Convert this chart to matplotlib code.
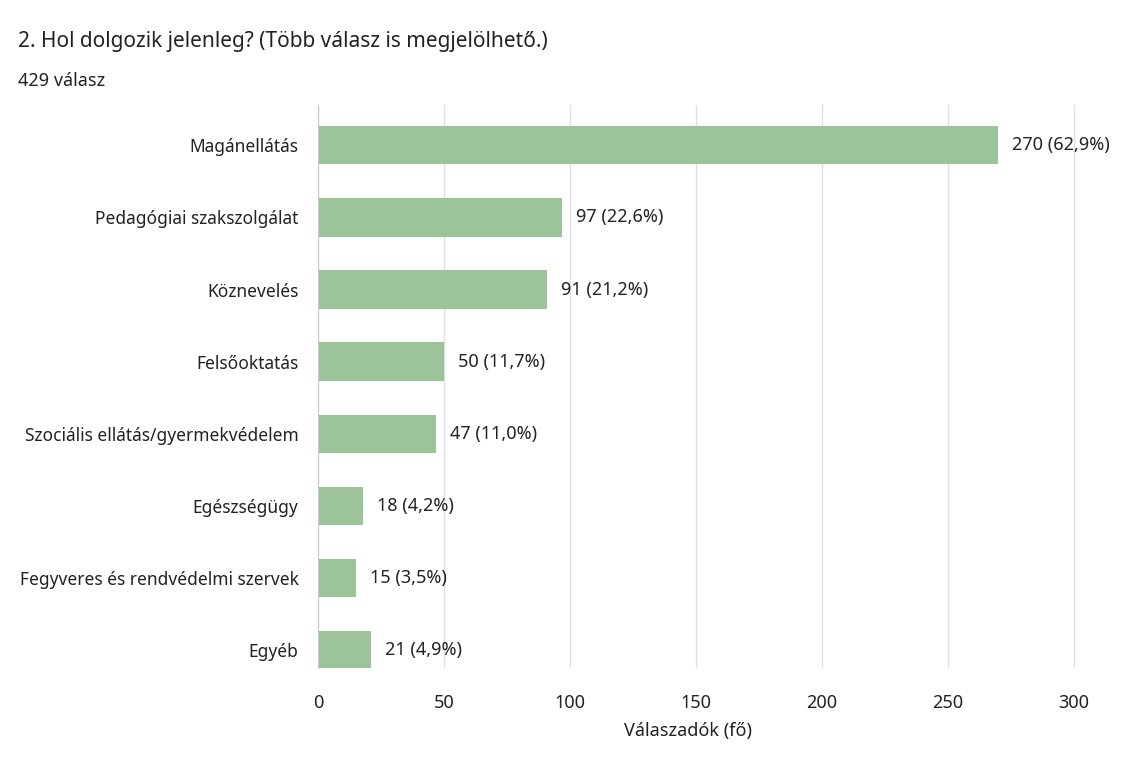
import matplotlib
matplotlib.use("Agg")
from matplotlib import pyplot as plt
import numpy as np

# adatok
categories = ["Magánellátás", "Pedagógiai szakszolgálat", "Köznevelés", "Felsőoktatás",
              "Szociális ellátás/gyermekvédelem", "Egészségügy",
              "Fegyveres és rendvédelmi szervek", "Egyéb"]
counts = [270, 97, 91, 50, 47, 18, 15, 21]
percents = ["62,9", "22,6", "21,2", "11,7", "11,0", "4,2", "3,5", "4,9"]
xticks = [0, 50, 100, 150, 200, 250, 300]

plt.rcParams['font.family'] = ['Noto Sans', 'DejaVu Sans']

fig = plt.figure(figsize=(11.45, 7.64), dpi=100)
ax = fig.add_axes([0.2777, 0.1257, 0.7040, 0.7369])

y = np.arange(len(categories))
ax.barh(y, counts, height=0.53, color="#9cc39a", zorder=2)
for yi, c, p in zip(y, counts, percents):
    ax.text(c + 5.5, yi, f"{c} ({p}%)", va="center", ha="left", fontsize=13, color="#222222")

ax.set_yticks(y)
ax.set_yticklabels(categories, fontsize=12.5, color="#222222")
ax.set_xticks(xticks)
ax.set_xticklabels([str(t) for t in xticks], fontsize=13, color="#222222")
ax.set_xlim(0, 320)
ax.set_ylim(7.25, -0.56)
ax.tick_params(axis="both", length=0)
ax.tick_params(axis="y", pad=14)
ax.tick_params(axis="x", pad=19)
ax.grid(axis="x", color="#e0e0e0", linewidth=1, zorder=0)
for s in ["top", "right", "bottom"]:
    ax.spines[s].set_visible(False)
ax.spines["left"].set_color("#c8c8c8")
ax.spines["left"].set_zorder(3)

fig.text(688 / 1145, 1 - 731 / 764, "Válaszadók (fő)", fontsize=13, va="center", ha="center",
         color="#222222")
fig.text(18 / 1145, 1 - 41 / 764, "2. Hol dolgozik jelenleg? (Több válasz is megjelölhető.)",
         fontsize=15, va="center", ha="left", color="#222222")
fig.text(18 / 1145, 1 - 81 / 764, "429 válasz", fontsize=13, va="center", ha="left", color="#222222")

fig.savefig("out.png", dpi=100, facecolor="#FFFFFF")
plt.close()
